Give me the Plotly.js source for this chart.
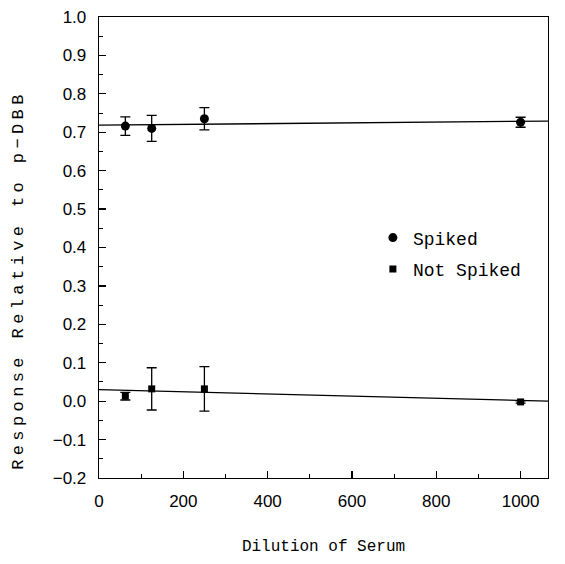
<!DOCTYPE html>
<html><head><meta charset="utf-8">
<script src="https://cdn.plot.ly/plotly-3.0.1.min.js"></script>
<style>body{margin:0;background:#fff}
.annotation-text{letter-spacing:4.4px}</style>
</head><body>
<div id="chart" style="width:565px;height:564px"></div>
<script>
const dilution = [62.5, 125, 250, 1000];
const spiked = [0.716, 0.710, 0.735, 0.726];
const spikedErr = [0.024, 0.034, 0.029, 0.013];
const notSpiked = [0.013, 0.032, 0.032, -0.002];
const notSpikedErr = [0.010, 0.055, 0.058, 0.003];
const fitX = [0, 1065];
const spikedFit = [0.7185, 0.729];
const notSpikedFit = [0.030, 0.0];
const xTicks = [0, 200, 400, 600, 800, 1000];
const yTicks = [-0.2, -0.1, 0.0, 0.1, 0.2, 0.3, 0.4, 0.5, 0.6, 0.7, 0.8, 0.9, 1.0];
const xTitle = 'Dilution of Serum';
const yTitle = 'Response Relative to p\u2212DBB';

const mono = 'Liberation Mono, Courier New, monospace';
const sans = 'Liberation Sans, Arial, sans-serif';

const traces = [
  {x: fitX, y: spikedFit, mode: 'lines', line: {color: '#000', width: 1.3}, showlegend: false, hoverinfo: 'skip'},
  {x: fitX, y: notSpikedFit, mode: 'lines', line: {color: '#000', width: 1.3}, showlegend: false, hoverinfo: 'skip'},
  {x: dilution, y: spiked, name: 'Spiked', mode: 'markers', legendgroup: 'a',
   marker: {symbol: 'circle', size: 9, color: '#000'},
   error_y: {type: 'data', array: spikedErr, visible: true, color: '#000', thickness: 1.3, width: 5}},
  {x: dilution, y: notSpiked, name: 'Not Spiked', mode: 'markers', legendgroup: 'b',
   marker: {symbol: 'square', size: 7, color: '#000'},
   error_y: {type: 'data', array: notSpikedErr, visible: true, color: '#000', thickness: 1.3, width: 5}}
];

const layout = {
  width: 565, height: 564,
  margin: {l: 99, r: 17, t: 17, b: 86},
  paper_bgcolor: '#fff', plot_bgcolor: '#fff',
  showlegend: true,
  legend: {x: 0.61, y: 0.561, xanchor: 'left', yanchor: 'top', bgcolor: 'rgba(0,0,0,0)',
           font: {family: mono, size: 18, color: '#000'}, tracegroupgap: 5, itemwidth: 30},
  xaxis: {
    range: [0, 1065], tickvals: xTicks, ticktext: xTicks.map(String),
    showline: true, linecolor: '#000', linewidth: 1.3, mirror: true,
    showgrid: false, zeroline: false,
    ticks: 'inside', ticklen: 7, tickcolor: '#000', tickwidth: 1.2,
    minor: {dtick: 100, ticks: 'inside', ticklen: 4, tickcolor: '#000', tickwidth: 1},
    tickfont: {family: sans, size: 17, color: '#000'}, ticklabelstandoff: 7,
    title: {text: xTitle, font: {family: mono, size: 16, color: '#000'}, standoff: 30}
  },
  yaxis: {
    range: [-0.2, 1.0], tickvals: yTicks, ticktext: yTicks.map(v => (v < 0 ? '\u2212' + Math.abs(v).toFixed(1) : v.toFixed(1))),
    showline: true, linecolor: '#000', linewidth: 1.3, mirror: true,
    showgrid: false, zeroline: false,
    ticks: 'inside', ticklen: 7, tickcolor: '#000', tickwidth: 1.2,
    minor: {dtick: 0.05, ticks: 'inside', ticklen: 4, tickcolor: '#000', tickwidth: 1},
    tickfont: {family: sans, size: 17, color: '#000'}, ticklabelstandoff: 8
  },
  annotations: [{
    text: yTitle, xref: 'paper', yref: 'paper', x: -0.178, y: 0.43,
    xanchor: 'center', yanchor: 'middle', textangle: -90, showarrow: false,
    font: {family: mono, size: 17, color: '#000'}
  }]
};

Plotly.newPlot('chart', traces, layout, {displayModeBar: false, staticPlot: true});
</script>
</body></html>
